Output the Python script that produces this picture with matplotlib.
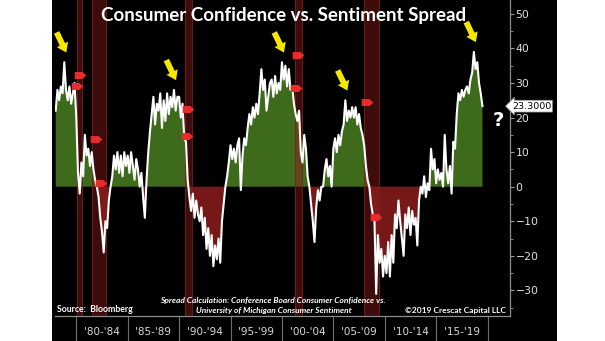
import numpy as np
import matplotlib
matplotlib.use('Agg')
import matplotlib.pyplot as plt
from matplotlib.patches import Rectangle
from matplotlib.path import Path

# bi-monthly spread (Conference Board confidence minus Michigan sentiment), from Jan 1978
start_year = 1978.0
step = 1 / 6
spread = [
    22, 28, 25, 29, 27, 36,          # 1978
    28, 25, 29, 24, 27, 30,          # 1979
    20, 4, -2, 7, 3, 15,             # 1980
    9, 11, 6, 10, 5, 2,              # 1981
    0, -3, -9, -13, -19, -10,        # 1982
    -12, -4, 0, 3, 9, 5,             # 1983
    10, 4, 9, 3, 10, 6,              # 1984
    9, 4, 10, 6, 2, 8,               # 1985
    5, 0, 4, -3, -9, 2,              # 1986
    10, 16, 21, 26, 18, 24,          # 1987
    22, 27, 17, 25, 19, 27,          # 1988
    21, 26, 23, 28, 22, 26,          # 1989
    26, 20, 24, 14, 13, 2,           # 1990
    -3, -7, -2, -9, -4, -8,          # 1991
    -10, -6, -14, -9, -18, -12,      # 1992
    -20, -14, -23, -17, -21, -15,    # 1993
    -22, -10, -5, 0, 3, 7,           # 1994
    12, 8, 11, 7, 12, 14,            # 1995
    -1, 9, 14, 12, 17, 21,           # 1996
    18, 23, 20, 24, 21, 27,          # 1997
    34, 28, 31, 22, 26, 30,          # 1998
    31, 26, 32, 27, 30, 28,          # 1999
    36, 31, 35, 29, 34, 28,          # 2000
    29, 24, 21, 19, 22, 10,          # 2001
    7, 15, 11, 3, 0, -5,             # 2002
    -10, -16, -6, -1, -4, 0,         # 2003
    0, 5, 8, 3, 6, 0,                # 2004
    11, 14, 10, 15, 12, 16,          # 2005
    18, 25, 19, 22, 20, 23,          # 2006
    20, 23, 18, 21, 17, 15,          # 2007
    12, 6, 2, 0, -5, -8,             # 2008
    -10, -31, -14, -22, -18, -26,    # 2009
    -20, -25, -16, -26, -14, -22,    # 2010
    -8, -12, -4, -10, -15, -20,      # 2011
    -8, -12, -6, -14, -7, -11,       # 2012
    -9, -17, -4, 0, -2, 3,           # 2013
    -3, 1, -1, 11, 5, 8,             # 2014
    1, 5, 2, 4, 0, 15,               # 2015
    5, 1, 6, -2, 13, 11,             # 2016
    21, 27, 25, 28, 26, 28,          # 2017
    29, 27, 31, 33, 39, 34,          # 2018
    36, 30, 27, 23.3,                # 2019
]
years = start_year + step * np.arange(len(spread))

recessions = [(1980.04, 1980.53), (1981.56, 1982.86), (1990.57, 1991.26),
              (2001.24, 2001.93), (2007.99, 2009.45)]

# red event tags on the chart
event_years = [1980.4, 1980.07, 1981.96, 1982.45, 1990.87, 1990.77,
               2001.57, 2001.38, 2008.23, 2009.15]
event_values = [32.3, 29.1, 13.8, 1.1, 22.5, 14.7, 38.1, 28.5, 24.5, -8.8]

# yellow arrows over the cycle peaks
peak_years = [1978.833, 1989.5, 2000.0, 2006.167, 2018.667]

period_edges = [1980, 1985, 1990, 1995, 2000, 2005, 2010, 2015, 2020]
period_labels = ["'80-'84", "'85-'89", "'90-'94", "'95-'99", "'00-'04",
                 "'05-'09", "'10-'14", "'15-'19"]

W, H = 605, 341
fig = plt.figure(figsize=(W / 100, H / 100), dpi=100, facecolor='white')

def fx(px):
    return px / W

def fy(py):
    return 1 - py / H

# black panel behind everything
fig.patches.append(Rectangle((fx(52), 0), fx(557) - fx(52), 1, transform=fig.transFigure,
                             facecolor='black', edgecolor='none', zorder=-5))

ax = fig.add_axes([fx(55), fy(316), fx(510) - fx(55), fy(0) - fy(316)])
ax.set_zorder(1)
ax.set_facecolor('black')
ax.set_xlim(1977.93, 2022.18)
ax.set_ylim(-37.4, 54.0)

y = np.array(spread, dtype=float)
ax.fill_between(years, 0, y, where=y >= 0, interpolate=True, color='#3e6b1b', lw=0, zorder=2)
ax.fill_between(years, 0, y, where=y <= 0, interpolate=True, color='#761818', lw=0, zorder=2)

for a, b in recessions:
    ax.axvspan(a, b, color='#8e1c1c', alpha=0.45, lw=0, zorder=3)
    for edge in (a, b):
        ax.axvline(edge, color='#7a2020', lw=0.6, zorder=3)

ax.plot(years, y, color='white', lw=1.5, zorder=4)

tag = Path([(-1, -0.6), (0.35, -0.6), (1, 0), (0.35, 0.6), (-1, 0.6), (-1, -0.6)],
           [Path.MOVETO, Path.LINETO, Path.LINETO, Path.LINETO, Path.LINETO, Path.CLOSEPOLY])
ax.scatter(event_years, event_values, marker=tag, s=70, color='#ea2b2b', lw=0, zorder=5)

for py in peak_years:
    v = spread[int(round((py - start_year) / step))]
    ax.annotate('', xy=(py + 0.2, v + 2.8), xytext=(-7, 14.5), textcoords='offset points',
                arrowprops=dict(arrowstyle='simple,head_length=0.65,head_width=0.9,tail_width=0.42',
                                color='#f4e800', lw=0, mutation_scale=10,
                                shrinkA=0, shrinkB=0), zorder=6)

# right-hand axis
ax.yaxis.tick_right()
ax.set_yticks(range(-30, 51, 10))
ax.set_yticks(range(-35, 54, 5), minor=True)
ax.tick_params(axis='y', which='both', direction='out', colors='#9a9a9a', labelcolor='#e0e0e0',
               labelsize=7.8, pad=1)
ax.tick_params(axis='y', which='major', length=3, width=0.8)
ax.tick_params(axis='y', which='minor', length=2, width=0.6)
ax.set_xticks([])
for s in ('left', 'top'):
    ax.spines[s].set_visible(False)
ax.spines['right'].set_color('#8c8c8c')
ax.spines['bottom'].set_color('#8c8c8c')
ax.spines['right'].set_linewidth(0.9)
ax.spines['bottom'].set_linewidth(0.9)

# period separators and labels under the plot
xt = ax.get_xaxis_transform()
for e in period_edges:
    ax.plot([e, e], [-25 / 316, 0], transform=xt, color='#6e6e6e', lw=0.8, clip_on=False)
for i, lab in enumerate(period_labels):
    ax.text(period_edges[i] + 2.5, -16 / 316, lab, transform=xt, ha='center', va='center',
            color='#d8d8d8', fontsize=7.5)

last = spread[-1]
ax.text(1.004, last, f'{last:.4f}', transform=ax.get_yaxis_transform(), ha='left', va='center',
        fontsize=6.8, color='black',
        bbox=dict(boxstyle='larrow,pad=0.15', fc='white', ec='#888888', lw=0.5), zorder=7)

fig.text(fx(284), fy(15), 'Consumer Confidence vs. Sentiment Spread', ha='center', va='center',
         color='white', fontsize=13.5, fontweight='bold', family=['Lato', 'DejaVu Sans'])
fig.text(fx(498), fy(121), '?', ha='center', va='center', color='white', fontsize=14,
         fontweight='bold')

small = ['Lato', 'DejaVu Sans']
fig.text(fx(57), fy(309), 'Source:  Bloomberg', ha='left', va='center', color='white',
         fontsize=6.3, fontweight='bold', family=small)
fig.text(fx(273), fy(300), 'Spread Calculation: Conference Board Consumer Confidence vs.',
         ha='center', va='center', color='white', fontsize=6.0, fontweight='bold',
         fontstyle='italic', family=small)
fig.text(fx(274), fy(310), 'University of Michigan Consumer Sentiment', ha='center', va='center',
         color='white', fontsize=6.0, fontweight='bold', fontstyle='italic', family=small)
fig.text(fx(506), fy(310), '\u00a92019 Crescat Capital LLC', ha='right', va='center',
         color='white', fontsize=6.0, fontweight='bold', family=small)

fig.savefig('out.png', dpi=100, facecolor='white')
